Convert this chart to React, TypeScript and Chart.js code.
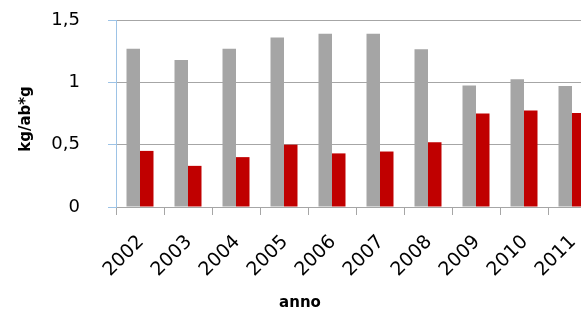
import React, { useEffect, useRef } from "react";
import { Chart, registerables } from "chart.js";

Chart.register(...registerables);

const categories = ["2002", "2003", "2004", "2005", "2006", "2007", "2008", "2009", "2010", "2011"];
const seriesGray = [1.27, 1.18, 1.27, 1.36, 1.39, 1.39, 1.265, 0.975, 1.025, 0.97];
const seriesRed = [0.45, 0.33, 0.40, 0.50, 0.43, 0.445, 0.52, 0.75, 0.775, 0.755];
const yTickValues = [0, 0.5, 1, 1.5];
const yTickLabels = ["0", "0,5", "1", "1,5"];
const yTitle = "kg/ab*g";
const xTitle = "anno";

const FONT = "'DejaVu Sans', sans-serif";

export default function App() {
  const ref = useRef<HTMLCanvasElement | null>(null);

  useEffect(() => {
    const canvas = ref.current;
    if (!canvas) return;

    const titlesPlugin = {
      id: "titlesPlugin",
      afterDraw(chart: any) {
        const ctx = chart.ctx;
        ctx.save();
        ctx.font = `bold 15px ${FONT}`;
        ctx.fillStyle = "#000000";
        ctx.textAlign = "center";
        ctx.textBaseline = "middle";
        ctx.fillText(xTitle, 300, 303);
        ctx.translate(26, 119);
        ctx.rotate(-Math.PI / 2);
        ctx.fillText(yTitle, 0, 0);
        ctx.restore();
      },
    };

    const chart = new Chart(canvas, {
      type: "bar",
      data: {
        labels: categories,
        datasets: [
          {
            data: seriesGray,
            backgroundColor: "#a5a5a5",
            borderWidth: 0,
            categoryPercentage: 0.5625,
            barPercentage: 1,
          },
          {
            data: seriesRed,
            backgroundColor: "#c00000",
            borderWidth: 0,
            categoryPercentage: 0.5625,
            barPercentage: 1,
          },
        ],
      },
      options: {
        responsive: false,
        animation: false,
        devicePixelRatio: 1,
        layout: { padding: { left: 0, top: 20, right: 24, bottom: 0 } },
        plugins: {
          legend: { display: false },
          tooltip: { enabled: false },
        },
        scales: {
          x: {
            grid: {
              display: true,
              drawOnChartArea: false,
              tickLength: 8,
              color: "#a6a6a6",
              tickColor: "#a6a6a6",
              offset: true,
            },
            border: { display: true, color: "#a6a6a6" },
            ticks: {
              minRotation: 45,
              maxRotation: 45,
              autoSkip: false,
              padding: 16,
              labelOffset: 1,
              color: "#000000",
              font: { family: FONT, size: 19 },
            },
            afterFit(scale: any) {
              scale.height = 105;
              scale.paddingLeft = 0;
              scale.paddingRight = 0;
            },
          },
          y: {
            min: 0,
            max: 1.5,
            afterBuildTicks(scale: any) {
              scale.ticks = yTickValues.map((v) => ({ value: v }));
            },
            ticks: {
              padding: 28,
              color: "#000000",
              font: { family: FONT, size: 18 },
              callback(value: any) {
                const i = yTickValues.indexOf(Number(value));
                return i >= 0 ? yTickLabels[i] : "";
              },
            },
            grid: {
              color: "#a6a6a6",
              tickColor: "#9dc3e6",
              tickLength: 8,
              lineWidth: 1,
            },
            border: { display: true, color: "#9dc3e6" },
            afterFit(scale: any) {
              scale.width = 116;
              scale.paddingTop = 0;
              scale.paddingBottom = 0;
            },
          },
        },
      },
      plugins: [titlesPlugin],
    });

    return () => chart.destroy();
  }, []);

  return (
    <div
      style={{
        position: "absolute",
        left: 0,
        top: 0,
        width: 581,
        height: 312,
        overflow: "hidden",
        background: "#ffffff",
      }}
    >
      <canvas ref={ref} width={620} height={312} style={{ width: 620, height: 312, display: "block" }} />
    </div>
  );
}
